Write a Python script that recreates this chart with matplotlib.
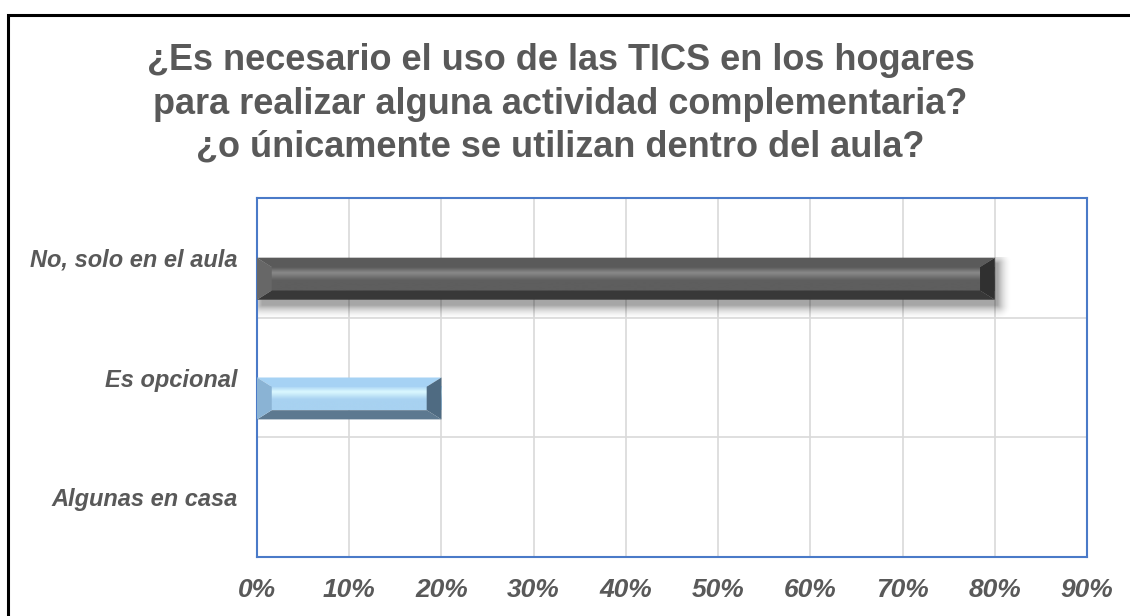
import numpy as np
import matplotlib.pyplot as plt
from matplotlib.patches import Rectangle, Polygon
from matplotlib.colors import LinearSegmentedColormap

plt.rcParams['font.family'] = ['Liberation Sans', 'DejaVu Sans']

categories = ["Algunas en casa", "Es opcional", "No, solo en el aula"]
values = [0, 20, 80]
xticks = [0, 10, 20, 30, 40, 50, 60, 70, 80, 90]
title = ("¿Es necesario el uso de las TICS en los hogares\n"
         "para realizar alguna actividad complementaria?\n"
         "¿o únicamente se utilizan dentro del aula?")

# colores: arriba, brillo, cara, bisel inferior, bisel izq., bisel der.
bar_styles = {
    "Es opcional": ["#a6d2f4", "#dcf9ff", "#a8d2f1", "#5d7990", "#8ab3d4", "#4f6b82"],
    "No, solo en el aula": ["#5a5a5a", "#8a8a8a", "#5e5e5e", "#383838", "#676767", "#303030"],
}

fig = plt.figure(figsize=(11.3, 6.16), dpi=100)
ax = fig.add_axes([257 / 1130, 59 / 616, 830 / 1130, 359 / 616])

h = 0.35
bevel = 1.6

for i, (cat, v) in enumerate(zip(categories, values)):
    if v <= 0:
        continue
    top, hi, face, bot, left, right = bar_styles[cat]
    y0, y1 = i - h, i
    bh = h * 0.22
    # sombra difusa debajo de la barra oscura
    if cat == "No, solo en el aula":
        sx0, sx1, sy0, sy1 = -1, v + 2.5, y0 - 0.22, y1
        xs = np.linspace(sx0, sx1, 400)
        ys = np.linspace(sy0, sy1, 100)
        X, Y = np.meshgrid(xs, ys)
        dx = np.maximum(np.maximum(0.4 - X, X - (v + 0.4)), 0) / 1.6
        dy = np.maximum(np.maximum((y0 - 0.05) - Y, Y - (y1 - 0.05)), 0) / 0.12
        a = np.clip(1 - np.sqrt(dx ** 2 + dy ** 2), 0, 1) ** 2 * 0.35
        rgba = np.zeros(X.shape + (4,))
        rgba[..., 3] = a
        ax.imshow(rgba, extent=(sx0, sx1, sy0, sy1), origin="lower",
                  aspect="auto", zorder=2, interpolation="bilinear")
    # cara frontal con franja de brillo
    cmap = LinearSegmentedColormap.from_list(
        cat, list(zip([0.0, 0.45, 0.77, 1.0], [face, face, hi, top])))
    grad = np.linspace(0, 1, 100).reshape(-1, 1)
    ax.imshow(grad, extent=(0, v, y0 + bh, y1 - bh), origin="lower", cmap=cmap,
              aspect="auto", zorder=3, interpolation="bicubic")
    # biseles
    ax.add_patch(Polygon([(0, y1), (bevel, y1 - bh), (v - bevel, y1 - bh), (v, y1)],
                         color=top, lw=0, zorder=4))
    ax.add_patch(Polygon([(0, y0), (bevel, y0 + bh), (v - bevel, y0 + bh), (v, y0)],
                         color=bot, lw=0, zorder=4))
    ax.add_patch(Polygon([(0, y0), (bevel, y0 + bh), (bevel, y1 - bh), (0, y1)],
                         color=left, lw=0, zorder=4))
    ax.add_patch(Polygon([(v, y0), (v - bevel, y0 + bh), (v - bevel, y1 - bh), (v, y1)],
                         color=right, lw=0, zorder=4))

ax.set_xlim(0, 90)
ax.set_ylim(-0.5, 2.5)
ax.set_xticks(xticks)
ax.set_xticklabels([f"{t}%" for t in xticks])
ax.set_yticks(range(len(categories)))
ax.set_yticklabels(categories)
ax.set_yticks([0.5, 1.5], minor=True)
ax.grid(True, which="major", axis="x", color="#d9d9d9", lw=1.2, zorder=0)
ax.grid(True, which="minor", axis="y", color="#d9d9d9", lw=1.2, zorder=0)
ax.set_axisbelow(True)
ax.tick_params(axis="both", which="both", length=0)
ax.tick_params(axis="x", pad=15)
ax.tick_params(axis="y", pad=14)
for lab in ax.get_xticklabels():
    lab.set_fontsize(19)
for lab in ax.get_yticklabels():
    lab.set_fontsize(17)
for lab in ax.get_xticklabels() + ax.get_yticklabels():
    lab.set_fontweight("bold")
    lab.set_fontstyle("italic")
    lab.set_color("#595959")
for s in ax.spines.values():
    s.set_color("#4a7ac8")
    s.set_linewidth(1.5)

fig.text(0.496, 1 - 104 / 616, title, ha="center", va="center", fontsize=26,
         fontweight="bold", color="#595959", linespacing=1.3)

fig.patches.append(Rectangle((8 / 1130, -0.1), 1.2, 1 - 15 / 616 + 0.1,
                             transform=fig.transFigure, fill=False, lw=2.2,
                             edgecolor="black"))

fig.savefig("out.png", dpi=100)
